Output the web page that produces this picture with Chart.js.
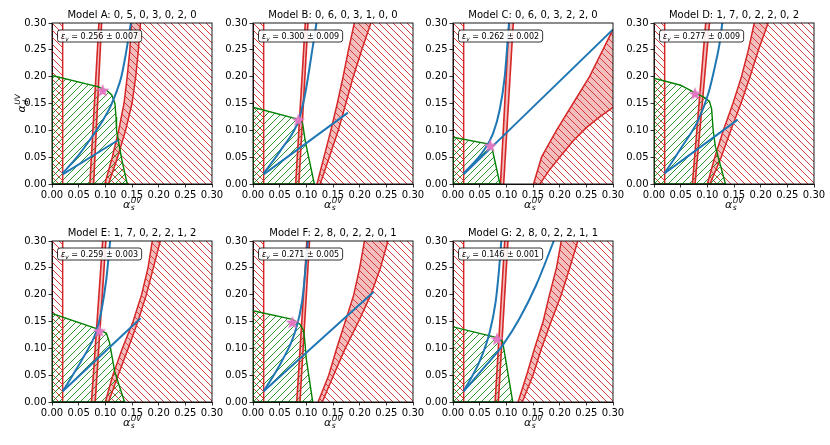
<!DOCTYPE html>
<html>
<head>
<meta charset="utf-8">
<script src="https://cdn.jsdelivr.net/npm/chart.js@4.4.0/dist/chart.umd.min.js"></script>
<style>
  html, body { margin: 0; padding: 0; background: #fff; }
  #wrap { position: relative; width: 830px; height: 445px; overflow: hidden; }
  #wrap canvas { position: absolute; }
</style>
</head>
<body>
<div id="wrap"></div>
<script>
// ---- data (x = alpha_s^UV, y = alpha_d^UV) ----
const modelTitles = [
    'Model A: 0, 5, 0, 3, 0, 2, 0',
    'Model B: 0, 6, 0, 3, 1, 0, 0',
    'Model C: 0, 6, 0, 3, 2, 2, 0',
    'Model D: 1, 7, 0, 2, 2, 0, 2',
    'Model E: 1, 7, 0, 2, 2, 1, 2',
    'Model F: 2, 8, 0, 2, 2, 0, 1',
    'Model G: 2, 8, 0, 2, 2, 1, 1'
];
const epsValues = ['0.256 ± 0.007', '0.300 ± 0.009', '0.262 ± 0.002', '0.277 ± 0.009',
                   '0.259 ± 0.003', '0.271 ± 0.005', '0.146 ± 0.001'];
const tickValues = [0, 0.05, 0.10, 0.15, 0.20, 0.25, 0.30];
const axisMin = 0, axisMax = 0.30;

// excluded strip on the left (0 .. stripX)
const stripX = [0.02, 0.02, 0.02, 0.02, 0.02, 0.02, 0.02];

// thin near-vertical red band
const thinBandLeft = [
    [[0.071, 0], [0.088, 0.3]],
    [[0.080, 0], [0.098, 0.3]],
    [[0.089, 0], [0.105, 0.3]],
    [[0.072, 0], [0.097, 0.3]],
    [[0.074, 0], [0.095, 0.3]],
    [[0.082, 0], [0.101, 0.3]],
    [[0.079, 0], [0.097, 0.3]]
];
const thinBandRight = [
    [[0.078, 0], [0.093, 0.3]],
    [[0.086, 0], [0.103, 0.3]],
    [[0.095, 0], [0.113, 0.3]],
    [[0.077, 0], [0.104, 0.3]],
    [[0.081, 0], [0.101, 0.3]],
    [[0.088, 0], [0.106, 0.3]],
    [[0.085, 0], [0.103, 0.3]]
];

// shaded red band; everything right of its left edge is hatched
const pinkBandLeft = [
    [[0.099, 0], [0.113, 0.05], [0.125, 0.10], [0.135, 0.15], [0.141, 0.20], [0.146, 0.25], [0.149, 0.30]],
    [[0.120, 0], [0.133, 0.05], [0.146, 0.10], [0.158, 0.15], [0.169, 0.20], [0.179, 0.25], [0.190, 0.30]],
    [[0.151, 0], [0.166, 0.05], [0.194, 0.10], [0.225, 0.15], [0.256, 0.20], [0.281, 0.25], [0.300, 0.288]],
    [[0.100, 0], [0.114, 0.05], [0.130, 0.10], [0.148, 0.15], [0.164, 0.20], [0.177, 0.25], [0.188, 0.30]],
    [[0.100, 0], [0.114, 0.05], [0.132, 0.10], [0.152, 0.15], [0.168, 0.20], [0.180, 0.25], [0.188, 0.30]],
    [[0.122, 0], [0.142, 0.05], [0.157, 0.10], [0.173, 0.15], [0.189, 0.20], [0.200, 0.25], [0.209, 0.30]],
    [[0.122, 0], [0.138, 0.05], [0.153, 0.10], [0.169, 0.15], [0.181, 0.20], [0.194, 0.25], [0.203, 0.30]]
];
const pinkBandRight = [
    [[0.106, 0], [0.123, 0.05], [0.138, 0.10], [0.150, 0.15], [0.157, 0.20], [0.162, 0.25], [0.166, 0.30]],
    [[0.126, 0], [0.143, 0.05], [0.160, 0.10], [0.174, 0.15], [0.188, 0.20], [0.204, 0.25], [0.221, 0.30]],
    [[0.163, 0], [0.180, 0.025], [0.200, 0.05], [0.225, 0.08], [0.250, 0.105], [0.275, 0.125], [0.300, 0.143]],
    [[0.105, 0], [0.126, 0.05], [0.144, 0.10], [0.163, 0.15], [0.180, 0.20], [0.196, 0.25], [0.214, 0.30]],
    [[0.106, 0], [0.124, 0.05], [0.143, 0.10], [0.161, 0.15], [0.177, 0.20], [0.190, 0.25], [0.203, 0.30]],
    [[0.130, 0], [0.151, 0.05], [0.173, 0.10], [0.198, 0.15], [0.221, 0.20], [0.239, 0.25], [0.253, 0.30]],
    [[0.130, 0], [0.150, 0.05], [0.166, 0.10], [0.184, 0.15], [0.203, 0.20], [0.219, 0.25], [0.234, 0.30]]
];

// blue curves
const blueCurve = [
    [[0.02, 0.02], [0.05, 0.054], [0.075, 0.088], [0.095, 0.118], [0.11, 0.145], [0.121, 0.172], [0.130, 0.20], [0.138, 0.24], [0.148, 0.30]],
    [[0.02, 0.02], [0.054, 0.066], [0.086, 0.12], [0.098, 0.169], [0.111, 0.249], [0.119, 0.30]],
    [[0.02, 0.02], [0.056, 0.06], [0.075, 0.094], [0.0875, 0.138], [0.097, 0.20], [0.105, 0.30]],
    [[0.02, 0.02], [0.052, 0.069], [0.083, 0.119], [0.102, 0.169], [0.114, 0.218], [0.124, 0.268], [0.128, 0.30]],
    [[0.02, 0.02], [0.058, 0.082], [0.083, 0.131], [0.0925, 0.169], [0.102, 0.23], [0.109, 0.30]],
    [[0.02, 0.02], [0.054, 0.076], [0.079, 0.131], [0.092, 0.187], [0.098, 0.243], [0.103, 0.30]],
    [[0.02, 0.02], [0.05, 0.076], [0.069, 0.131], [0.08, 0.187], [0.086, 0.243], [0.0906, 0.30]]
];
const blueLine = [
    [[0.02, 0.018], [0.1245, 0.082]],
    [[0.02, 0.018], [0.178, 0.133]],
    [[0.02, 0.018], [0.300, 0.288]],
    [[0.02, 0.02], [0.157, 0.12]],
    [[0.02, 0.02], [0.166, 0.156]],
    [[0.02, 0.02], [0.226, 0.205]],
    [[0.02, 0.02], [0.0625, 0.069], [0.094, 0.107], [0.125, 0.156], [0.156, 0.218], [0.189, 0.30]]
];

// allowed (green) region
const greenRegion = [
    [[0, 0], [0, 0.202], [0.087, 0.181], [0.103, 0.174], [0.112, 0.166], [0.118, 0.15], [0.120, 0.125], [0.121, 0.10], [0.131, 0.045], [0.141, 0], [0, 0]],
    [[0, 0], [0, 0.143], [0.087, 0.12], [0.093, 0.113], [0.098, 0.08], [0.115, 0], [0, 0]],
    [[0, 0], [0, 0.087], [0.070, 0.074], [0.073, 0.068], [0.088, 0], [0, 0]],
    [[0, 0], [0, 0.197], [0.05, 0.184], [0.077, 0.17], [0.095, 0.161], [0.104, 0.154], [0.108, 0.14], [0.111, 0.10], [0.115, 0.07], [0.134, 0], [0, 0]],
    [[0, 0], [0, 0.165], [0.089, 0.135], [0.102, 0.128], [0.108, 0.11], [0.1175, 0.057], [0.136, 0], [0, 0]],
    [[0, 0], [0, 0.17], [0.074, 0.154], [0.088, 0.145], [0.095, 0.133], [0.097, 0.115], [0.100, 0.08], [0.112, 0], [0, 0]],
    [[0, 0], [0, 0.14], [0.0825, 0.12], [0.093, 0.113], [0.112, 0], [0, 0]]
];
const starPoint = [[0.095, 0.175], [0.085, 0.12], [0.070, 0.072], [0.077, 0.169], [0.089, 0.133], [0.074, 0.149], [0.0825, 0.118]];

// ---- layout and style ----
const plotLefts = [52, 253, 453, 654, 52, 253, 453];
const plotTops = [23, 23, 23, 23, 241, 241, 241];
const PW = 160, PH = 161, YW = 48, PT = 24, PR = 14, XH = 40;
const FONT = "'DejaVu Sans', sans-serif";
const RED = '#d62728', BLUE = '#1f77b4', GREEN = '#008000', PINK = '#e377c2';
const PINK_FILL = 'rgba(214, 39, 40, 0.3)';

function toXY(pts) {
    return pts.map(p => ({ x: p[0], y: p[1] }));
}

// star marker as an image for pointStyle
function makeStar(size, color) {
    const c = document.createElement('canvas');
    c.width = size; c.height = size;
    const g = c.getContext('2d');
    const r = size / 2, ri = r * 0.42;
    g.beginPath();
    for (let k = 0; k < 10; k++) {
        const ang = -Math.PI / 2 + k * Math.PI / 5;
        const rr = k % 2 ? ri : r;
        g.lineTo(r + rr * Math.cos(ang), r + 0.8 + rr * Math.sin(ang));
    }
    g.closePath();
    g.fillStyle = color;
    g.fill();
    return c;
}
const starImg = makeStar(14, PINK);

function polyPath(ctx, chart, pts) {
    const sx = chart.scales.x, sy = chart.scales.y;
    ctx.beginPath();
    pts.forEach((p, k) => {
        const px = sx.getPixelForValue(p[0]), py = sy.getPixelForValue(p[1]);
        if (k === 0) ctx.moveTo(px, py); else ctx.lineTo(px, py);
    });
    ctx.closePath();
}

// diagonal hatch inside current clip; dir 1 = '\\', -1 = '/'
function hatch(ctx, area, dir, color) {
    const step = 7;
    const h = area.bottom - area.top;
    ctx.strokeStyle = color;
    ctx.lineWidth = 0.9;
    ctx.beginPath();
    for (let x0 = area.left - h - step; x0 < area.right + h + step; x0 += step) {
        if (dir > 0) { ctx.moveTo(x0, area.top); ctx.lineTo(x0 + h, area.bottom); }
        else { ctx.moveTo(x0, area.bottom); ctx.lineTo(x0 + h, area.top); }
    }
    ctx.stroke();
}

// alpha with stacked sub/superscript, centred on x, baseline y
function drawAlpha(ctx, x, y, sub) {
    ctx.font = 'italic 11px ' + FONT;
    const wA = ctx.measureText('α').width;
    ctx.font = 'italic 7.5px ' + FONT;
    const wS = Math.max(ctx.measureText(sub).width, ctx.measureText('UV').width);
    const x0 = x - (wA + wS) / 2;
    ctx.fillStyle = '#000';
    ctx.textAlign = 'left';
    ctx.textBaseline = 'alphabetic';
    ctx.font = 'italic 11px ' + FONT;
    ctx.fillText('α', x0, y);
    ctx.font = 'italic 7.5px ' + FONT;
    ctx.fillText('UV', x0 + wA + 0.5, y - 5);
    ctx.fillText(sub, x0 + wA + 0.5, y + 2.5);
}

function makePanelPlugin(i) {
    return {
        id: 'panel' + i,
        beforeDatasetsDraw(chart) {
            const ctx = chart.ctx, a = chart.chartArea;
            ctx.save();
            ctx.beginPath();
            ctx.rect(a.left, a.top, a.right - a.left, a.bottom - a.top);
            ctx.clip();

            // left excluded strip
            ctx.save();
            polyPath(ctx, chart, [[axisMin, axisMin], [stripX[i], axisMin], [stripX[i], axisMax], [axisMin, axisMax]]);
            ctx.clip();
            hatch(ctx, a, 1, RED);
            ctx.restore();

            // right excluded region
            const L = pinkBandLeft[i];
            const last = L[L.length - 1];
            ctx.save();
            polyPath(ctx, chart, L.concat([[axisMax, last[1]], [axisMax, axisMin]]));
            ctx.clip();
            hatch(ctx, a, 1, RED);
            ctx.restore();

            // shaded bands
            ctx.fillStyle = PINK_FILL;
            polyPath(ctx, chart, L.concat(pinkBandRight[i].slice().reverse()));
            ctx.fill();
            polyPath(ctx, chart, thinBandLeft[i].concat(thinBandRight[i].slice().reverse()));
            ctx.fill();

            // green allowed region
            ctx.save();
            polyPath(ctx, chart, greenRegion[i]);
            ctx.clip();
            hatch(ctx, a, -1, 'rgba(0, 128, 0, 0.9)');
            ctx.restore();

            ctx.restore();
        },
        afterDatasetsDraw(chart) {
            const ctx = chart.ctx, a = chart.chartArea;
            ctx.save();
            // spines
            ctx.strokeStyle = '#000';
            ctx.lineWidth = 0.9;
            ctx.strokeRect(a.left, a.top, a.right - a.left, a.bottom - a.top);

            // epsilon box
            const bx = a.left + 5.5, by = a.top + 7, bh = 12;
            ctx.font = 'italic 8px ' + FONT;
            const wE = ctx.measureText('ε').width;
            ctx.font = 'italic 5.8px ' + FONT;
            const wV = ctx.measureText('v').width;
            ctx.font = '8px ' + FONT;
            const rest = ' = ' + epsValues[i];
            const wR = ctx.measureText(rest).width;
            const bw = wE + wV + wR + 7;
            ctx.beginPath();
            ctx.roundRect(bx, by, bw, bh, 2.5);
            ctx.fillStyle = 'rgba(255,255,255,0.9)';
            ctx.fill();
            ctx.lineWidth = 0.8;
            ctx.strokeStyle = '#000';
            ctx.stroke();
            ctx.fillStyle = '#000';
            ctx.textBaseline = 'alphabetic';
            ctx.textAlign = 'left';
            const ty = by + 8.8;
            ctx.font = 'italic 8px ' + FONT;
            ctx.fillText('ε', bx + 3.5, ty);
            ctx.font = 'italic 5.8px ' + FONT;
            ctx.fillText('v', bx + 3.5 + wE, ty + 1.8);
            ctx.font = '8px ' + FONT;
            ctx.fillText(rest, bx + 3.5 + wE + wV, ty);

            // title
            ctx.font = '10px ' + FONT;
            ctx.textAlign = 'center';
            ctx.fillText(modelTitles[i], (a.left + a.right) / 2, a.top - 5);

            // axis labels
            drawAlpha(ctx, (a.left + a.right) / 2, a.bottom + 23.5, 's');
            if (i === 0) {
                ctx.save();
                ctx.translate(a.left - 27, (a.top + a.bottom) / 2);
                ctx.rotate(-Math.PI / 2);
                drawAlpha(ctx, 0, 0, 'd');
                ctx.restore();
            }
            ctx.restore();
        }
    };
}

function lineSet(pts, color, width, smooth) {
    const ds = {
        data: toXY(pts),
        showLine: true,
        borderColor: color,
        borderWidth: width,
        pointRadius: 0,
        pointHoverRadius: 0,
        fill: false,
        tension: 0
    };
    if (smooth) ds.cubicInterpolationMode = 'monotone';
    return ds;
}

function axisOptions(isX) {
    return {
        type: 'linear',
        min: axisMin,
        max: axisMax,
        afterBuildTicks: s => { s.ticks = tickValues.map(v => ({ value: v })); },
        afterFit: s => { if (isX) s.height = XH; else s.width = YW; },
        ticks: {
            callback: v => Number(v).toFixed(2),
            font: { family: FONT, size: 10 },
            color: '#000',
            autoSkip: false,
            maxRotation: 0,
            minRotation: 0,
            padding: 2
        },
        grid: { drawOnChartArea: false, drawTicks: true, tickLength: 3.5, color: '#000', lineWidth: 0.8 },
        border: { display: true, color: '#000', width: 0.9 }
    };
}

const wrap = document.getElementById('wrap');
for (let i = 0; i < modelTitles.length; i++) {
    const cv = document.createElement('canvas');
    const W = YW + PW + PR, H = PT + PH + XH;
    cv.width = W; cv.height = H;
    cv.style.width = W + 'px'; cv.style.height = H + 'px';
    cv.style.left = (plotLefts[i] - YW) + 'px';
    cv.style.top = (plotTops[i] - PT) + 'px';
    wrap.appendChild(cv);

    const datasets = [
        { data: toXY([starPoint[i]]), showLine: false, pointStyle: starImg, pointRadius: 7, pointHoverRadius: 7 },
        lineSet(blueCurve[i], BLUE, 2, true),
        lineSet(blueLine[i], BLUE, 2, true),
        lineSet(greenRegion[i], GREEN, 1.4, false),
        lineSet(thinBandLeft[i], RED, 1.6, false),
        lineSet(thinBandRight[i], RED, 1.6, false),
        lineSet(pinkBandLeft[i], RED, 1.5, false),
        lineSet(pinkBandRight[i], RED, 1.5, false),
        lineSet([[stripX[i], axisMin], [stripX[i], axisMax]], RED, 1.5, false)
    ];

    new Chart(cv.getContext('2d'), {
        type: 'scatter',
        data: { datasets: datasets },
        options: {
            responsive: false,
            maintainAspectRatio: false,
            animation: false,
            devicePixelRatio: 1,
            layout: { padding: { left: 0, top: PT, right: PR, bottom: 0 } },
            plugins: { legend: { display: false }, tooltip: { enabled: false } },
            scales: { x: axisOptions(true), y: axisOptions(false) }
        },
        plugins: [makePanelPlugin(i)]
    });
}
</script>
</body>
</html>
